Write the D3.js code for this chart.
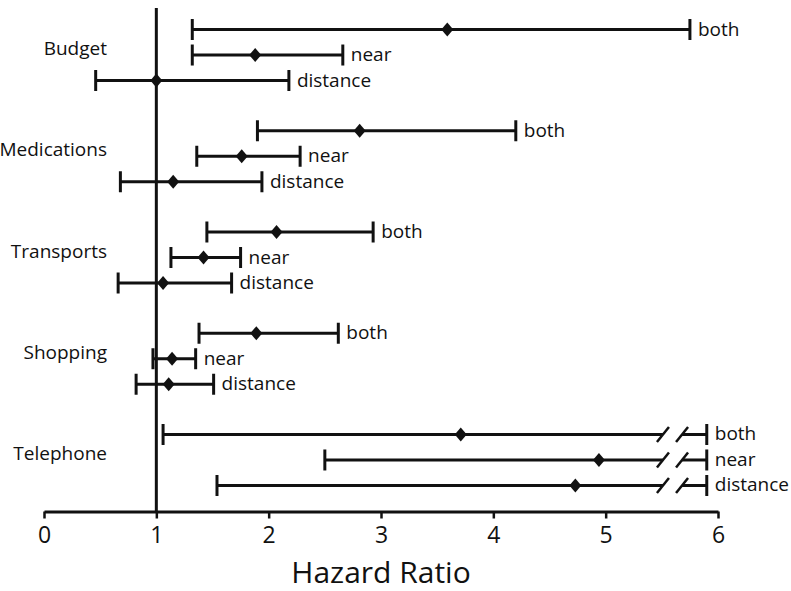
<!DOCTYPE html>
<html>
<head>
<meta charset="utf-8">
<script src="https://cdn.jsdelivr.net/npm/d3@7/dist/d3.min.js"></script>
<style>
  body { margin: 0; background: #fff; }
  text { font-family: "Open Sans", "Noto Sans", sans-serif; fill: #111; }
</style>
</head>
<body>
<svg id="chart" width="791" height="591"></svg>
<script>
// data
const categories = ["Budget", "Medications", "Transports", "Shopping", "Telephone"];
const types = ["both", "near", "distance"];
const hr = [
  [3.59, 1.88, 1.00],
  [2.81, 1.76, 1.15],
  [2.07, 1.42, 1.06],
  [1.89, 1.14, 1.11],
  [3.71, 4.94, 4.73]
];
const lower = [
  [1.32, 1.32, 0.46],
  [1.90, 1.36, 0.68],
  [1.45, 1.13, 0.66],
  [1.38, 0.97, 0.82],
  [1.06, 2.50, 1.54]
];
const upper = [
  [5.75, 2.66, 2.18],
  [4.20, 2.28, 1.94],
  [2.93, 1.75, 1.67],
  [2.62, 1.35, 1.51],
  [5.90, 5.90, 5.90]
];
const truncated = [false, false, false, false, true];
const breakAt = [5.51, 5.68];
const xTicks = [0, 1, 2, 3, 4, 5, 6];

const svg = d3.select("#chart");

const x = d3.scaleLinear().domain([0, 6]).range([44, 718]);
const yGroup = d3.scaleBand().domain(categories).range([4.4, 510.6]);
const yRow = d3.scalePoint().domain(types).range([-25.5, 25.5]);

const rows = [];
categories.forEach((c, i) => {
  types.forEach((t, j) => {
    rows.push({cat: c, type: t, hr: hr[i][j], lo: lower[i][j], hi: upper[i][j], cut: truncated[i],
      y: yGroup(c) + yGroup.bandwidth() / 2 + yRow(t)});
  });
});

// axis
const axis = svg.append("g")
  .attr("transform", "translate(0,511.5)")
  .call(d3.axisBottom(x).tickValues(xTicks).tickSize(7).tickSizeOuter(0).tickFormat(d3.format("d")));
axis.select(".domain").attr("stroke", "#111").attr("stroke-width", 3);
axis.selectAll(".tick line").attr("stroke", "#111").attr("stroke-width", 2.5);
axis.selectAll(".tick text").attr("font-size", 23).attr("dy", "0.92em")
  .style("font-family", "'Open Sans', sans-serif").attr("fill", "#111");

svg.append("text")
  .attr("x", 381).attr("y", 583)
  .attr("text-anchor", "middle")
  .attr("font-size", 30)
  .text("Hazard Ratio");

// reference line at HR = 1
svg.append("line")
  .attr("x1", x(1)).attr("x2", x(1))
  .attr("y1", 8).attr("y2", 511.5)
  .attr("stroke", "#111").attr("stroke-width", 3);

// category labels
svg.selectAll("text.cat")
  .data(categories)
  .enter().append("text")
  .attr("class", "cat")
  .attr("x", 107)
  .attr("y", d => yGroup(d) + yGroup.bandwidth() / 2)
  .attr("text-anchor", "end")
  .attr("font-size", 19)
  .text(d => d);

const g = svg.selectAll("g.row")
  .data(rows)
  .enter().append("g")
  .attr("class", "row");

// horizontal CI line (with break for truncated rows)
g.each(function(d) {
  const s = d3.select(this);
  const stroke = l => l.attr("stroke", "#111").attr("stroke-width", 3).attr("fill", "none");
  if (!d.cut) {
    s.append("line").attr("x1", x(d.lo)).attr("x2", x(d.hi)).attr("y1", d.y).attr("y2", d.y).call(stroke);
  } else {
    s.append("line").attr("x1", x(d.lo)).attr("x2", x(breakAt[0])).attr("y1", d.y).attr("y2", d.y).call(stroke);
    s.append("line").attr("x1", x(breakAt[1])).attr("x2", x(d.hi)).attr("y1", d.y).attr("y2", d.y).call(stroke);
    breakAt.forEach(b => {
      s.append("line")
        .attr("x1", x(b) - 6).attr("x2", x(b) + 6)
        .attr("y1", d.y + 7.5).attr("y2", d.y - 7.5)
        .attr("stroke", "#111").attr("stroke-width", 2.5);
    });
  }
});

// caps
g.append("line")
  .attr("x1", d => x(d.lo)).attr("x2", d => x(d.lo))
  .attr("y1", d => d.y - 10.5).attr("y2", d => d.y + 10.5)
  .attr("stroke", "#111").attr("stroke-width", 3);
g.append("line")
  .attr("x1", d => x(d.hi)).attr("x2", d => x(d.hi))
  .attr("y1", d => d.y - 10.5).attr("y2", d => d.y + 10.5)
  .attr("stroke", "#111").attr("stroke-width", 3);

// point estimate diamonds
const diamond = {
  draw(ctx) {
    ctx.moveTo(0, -7);
    ctx.lineTo(6, 0);
    ctx.lineTo(0, 7);
    ctx.lineTo(-6, 0);
    ctx.closePath();
  }
};
g.append("path")
  .attr("d", d3.symbol().type(diamond))
  .attr("transform", d => "translate(" + x(d.hr) + "," + d.y + ")")
  .attr("fill", "#111");

// row labels
g.append("text")
  .attr("x", d => x(d.hi) + 8)
  .attr("y", d => d.y + 6)
  .attr("font-size", 19)
  .text(d => d.type);
</script>
</body>
</html>
